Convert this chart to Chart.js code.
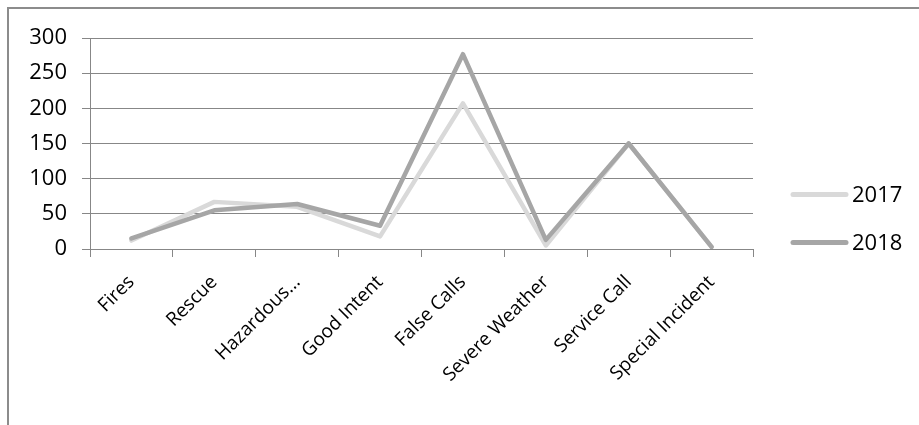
<!DOCTYPE html>
<html lang="en">
<head>
  <meta charset="UTF-8">
  <title>Incident Types 2017 vs 2018</title>
  <script src="https://cdn.jsdelivr.net/npm/chart.js"></script>
  <style>
    body {
      margin: 0;
      background: #fff;
      overflow: hidden;
    }

    #frame {
      position: absolute;
      left: 7px;
      top: 7px;
      width: 940px;
      height: 440px;
      border-top: 2px solid #8c8c8c;
      border-left: 2px solid #8c8c8c;
    }

    #wrap {
      position: absolute;
      left: 0;
      top: 0;
      width: 919px;
      height: 425px;
    }
  </style>
</head>
<body>
  <div id="frame"></div>
  <div id="wrap">
    <canvas id="incidentChart"></canvas>
  </div>

  <script>
    const categories = ["Fires", "Rescue", "Hazardous...", "Good Intent", "False Calls", "Severe Weather", "Service Call", "Special Incident"];
    const values2017 = [12, 67, 60, 18, 207, 5, 150, 3];
    const values2018 = [15, 55, 64, 33, 277, 13, 150, 3];
    const yTicks = [0, 50, 100, 150, 200, 250, 300];

    const gridColor = "#878787";
    const fontFamily = "'Open Sans', sans-serif";

    // excel style legend: line sample + label, centred vertically on the canvas
    const lineLegend = {
      id: 'lineLegend',
      afterDraw(chart) {
        const ctx = chart.ctx;
        const area = chart.chartArea;
        const sets = chart.data.datasets;
        const gap = 48;
        const x0 = area.right + 40;
        let y = chart.height / 2 - gap * (sets.length - 1) / 2 + 6;
        ctx.save();
        ctx.font = "22px " + fontFamily;
        ctx.textBaseline = 'middle';
        ctx.fillStyle = '#000';
        sets.forEach(ds => {
          ctx.strokeStyle = ds.borderColor;
          ctx.lineWidth = 5;
          ctx.lineCap = 'round';
          ctx.beginPath();
          ctx.moveTo(x0, y);
          ctx.lineTo(x0 + 53, y);
          ctx.stroke();
          ctx.fillText(ds.label, x0 + 59, y + 1);
          y += gap;
        });
        ctx.restore();
      }
    };

    new Chart(document.getElementById("incidentChart"), {
      type: 'line',
      data: {
        labels: categories,
        datasets: [
          {
            label: "2017",
            data: values2017,
            borderColor: "#d9d9d9",
            borderWidth: 4.5,
            order: 1
          },
          {
            label: "2018",
            data: values2018,
            borderColor: "#a6a6a6",
            borderWidth: 4.5,
            order: 0
          }
        ]
      },
      options: {
        responsive: true,
        maintainAspectRatio: false,
        animation: false,
        elements: {
          point: { radius: 0, hoverRadius: 0 },
          line: { tension: 0, borderCapStyle: 'round', borderJoinStyle: 'round' }
        },
        layout: {
          padding: { top: 38, right: 166, left: 0, bottom: 0 }
        },
        scales: {
          x: {
            offset: true,
            afterFit(scale) { scale.height = 176; },
            grid: {
              offset: true,
              drawOnChartArea: false,
              drawTicks: true,
              tickLength: 8,
              color: gridColor
            },
            border: { color: gridColor, width: 1 },
            ticks: {
              autoSkip: false,
              minRotation: 45,
              maxRotation: 45,
              padding: 14,
              color: '#000',
              font: { family: fontFamily, size: 19 }
            }
          },
          y: {
            min: 0,
            max: 300,
            afterFit(scale) { scale.width = 90; },
            afterBuildTicks(scale) {
              scale.ticks = yTicks.map(v => ({ value: v }));
            },
            grid: {
              color: gridColor,
              tickLength: 8
            },
            border: { color: gridColor, width: 1 },
            ticks: {
              padding: 15,
              color: '#000',
              font: { family: fontFamily, size: 22 }
            }
          }
        },
        plugins: {
          legend: { display: false },
          tooltip: { enabled: false }
        }
      },
      plugins: [lineLegend]
    });
  </script>
</body>
</html>
